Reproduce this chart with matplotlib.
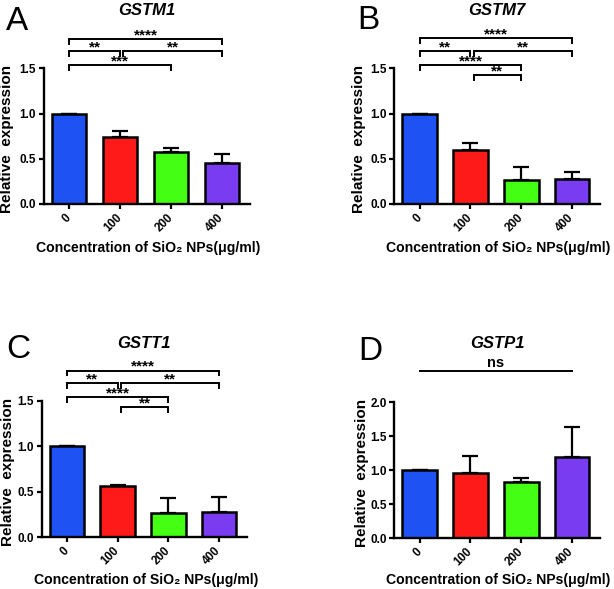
import matplotlib
matplotlib.use("Agg")
import matplotlib.pyplot as plt

plt.rcParams['font.family'] = ['Liberation Sans', 'DejaVu Sans']

categories = ["0", "100", "200", "400"]
colors = ["#1F52F2", "#FF1A1A", "#44FF14", "#7A3CF0"]

gstm1_mean = [1.0, 0.737, 0.578, 0.456]
gstm1_err = [0.0, 0.07, 0.044, 0.096]
gstm7_mean = [1.0, 0.597, 0.265, 0.273]
gstm7_err = [0.0, 0.073, 0.14, 0.077]
gstt1_mean = [1.0, 0.563, 0.263, 0.28]
gstt1_err = [0.0, 0.007, 0.167, 0.165]
gstp1_mean = [1.0, 0.965, 0.83, 1.2]
gstp1_err = [0.0, 0.245, 0.06, 0.44]

# brackets: (start, end, y, label)
gstm1_sig = [(0, 3, 1.82, "****"), (0, 1, 1.69, "**"), (1, 3, 1.69, "**"), (0, 2, 1.536, "***")]
gstm7_sig = [(0, 3, 1.83, "****"), (0, 1, 1.69, "**"), (1, 3, 1.69, "**"),
             (0, 2, 1.536, "****"), (1, 2, 1.425, "**")]
gstt1_sig = [(0, 3, 1.83, "****"), (0, 1, 1.69, "**"), (1, 3, 1.69, "**"),
             (0, 2, 1.537, "****"), (1, 2, 1.427, "**")]

W, H = 614, 589
fig = plt.figure(figsize=(W / 100, H / 100), dpi=100)


def fx(x):
    return x / W


def fy(y):
    return 1 - y / H


def make_ax(left, right, top, bottom):
    return fig.add_axes([fx(left), fy(bottom), fx(right) - fx(left), (bottom - top) / H])


panels = [
    dict(letter="A", title="GSTM1", mean=gstm1_mean, err=gstm1_err, sig=gstm1_sig,
         box=(43.5, 250, 68.3, 204), ymax=1.5, ticks=[0, 0.5, 1.0, 1.5],
         letter_xy=(6, 30), title_y=15, xlabel_y=252, ylabel_x=14.5),
    dict(letter="B", title="GSTM7", mean=gstm7_mean, err=gstm7_err, sig=gstm7_sig,
         box=(394.3, 600, 68.3, 204), ymax=1.5, ticks=[0, 0.5, 1.0, 1.5],
         letter_xy=(357, 29), title_y=15, xlabel_y=252, ylabel_x=365.5),
    dict(letter="C", title="GSTT1", mean=gstt1_mean, err=gstt1_err, sig=gstt1_sig,
         box=(41.5, 247, 400.7, 537.3), ymax=1.5, ticks=[0, 0.5, 1.0, 1.5],
         letter_xy=(6, 358), title_y=348, xlabel_y=584, ylabel_x=15.5),
    dict(letter="D", title="GSTP1", mean=gstp1_mean, err=gstp1_err, sig=None,
         box=(394.3, 600, 402.3, 538.3), ymax=2.0, ticks=[0, 0.5, 1.0, 1.5, 2.0],
         letter_xy=(358, 360), title_y=348, xlabel_y=584, ylabel_x=369),
]

for p in panels:
    l, r, t, b = p["box"]
    ax = make_ax(l, r, t, b)
    x = list(range(len(categories)))
    ax.bar(x, p["mean"], width=0.68, color=colors, edgecolor="black", linewidth=1.8, zorder=2)
    ax.errorbar(x, p["mean"], yerr=[[0] * 4, p["err"]], fmt="none", ecolor="black",
                elinewidth=1.6, capsize=6, capthick=1.6, zorder=1)
    ax.set_xlim(-0.5, 3.55)
    ax.set_ylim(0, p["ymax"])
    ax.set_yticks(p["ticks"])
    ax.set_yticklabels([f"{v:.1f}" for v in p["ticks"]], fontsize=8.5, fontweight="bold")
    ax.set_xticks(x)
    ax.set_xticklabels(categories, rotation=45, ha="right", va="center",
                       rotation_mode="anchor", fontsize=8.5, fontweight="bold")
    ax.tick_params(axis="both", direction="out", length=3.5, width=1.6, pad=2.0)
    ax.tick_params(axis="x", pad=5)
    for s in ["top", "right"]:
        ax.spines[s].set_visible(False)
    for s in ["left", "bottom"]:
        ax.spines[s].set_linewidth(1.7)
    ax.set_ylabel("Relative  expression", fontsize=11, fontweight="bold")
    ax.yaxis.set_label_coords(-(l - p["ylabel_x"]) / (r - l), 0.48)

    ppu = (b - t) / p["ymax"]
    tick_d = 4.5 / ppu
    if p["sig"]:
        for (i, j, yv, lab) in p["sig"]:
            xs = i + (0.06 if i > 0 else 0.0)
            ax.plot([xs, xs, j, j], [yv - tick_d, yv, yv, yv - tick_d], color="black",
                    lw=1.4, clip_on=False, solid_joinstyle="miter")
            ax.text((xs + j) / 2, yv, lab, ha="center", va="baseline",
                    fontsize=11, fontweight="bold", clip_on=False)
    else:
        yv = (b - 370.7) / ppu
        ax.plot([0, 3], [yv, yv], color="black", lw=1.4, clip_on=False)
        ax.text(1.5, yv + 3.5 / ppu, "ns", ha="center", va="baseline",
                fontsize=10.5, fontweight="bold", clip_on=False)

    cx = (l + r) / 2
    fig.text(fx(cx), fy(p["title_y"]), p["title"], ha="center", va="baseline",
             fontsize=12, fontweight="bold", fontstyle="italic")
    fig.text(fx(p["letter_xy"][0]), fy(p["letter_xy"][1]), p["letter"], ha="left",
             va="baseline", fontsize=24)
    fig.text(fx(cx + 1.5), fy(p["xlabel_y"]), "Concentration of SiO₂ NPs(μg/ml)",
             ha="center", va="baseline", fontsize=10.1, fontweight="bold")

fig.savefig("out.png", dpi=100)
